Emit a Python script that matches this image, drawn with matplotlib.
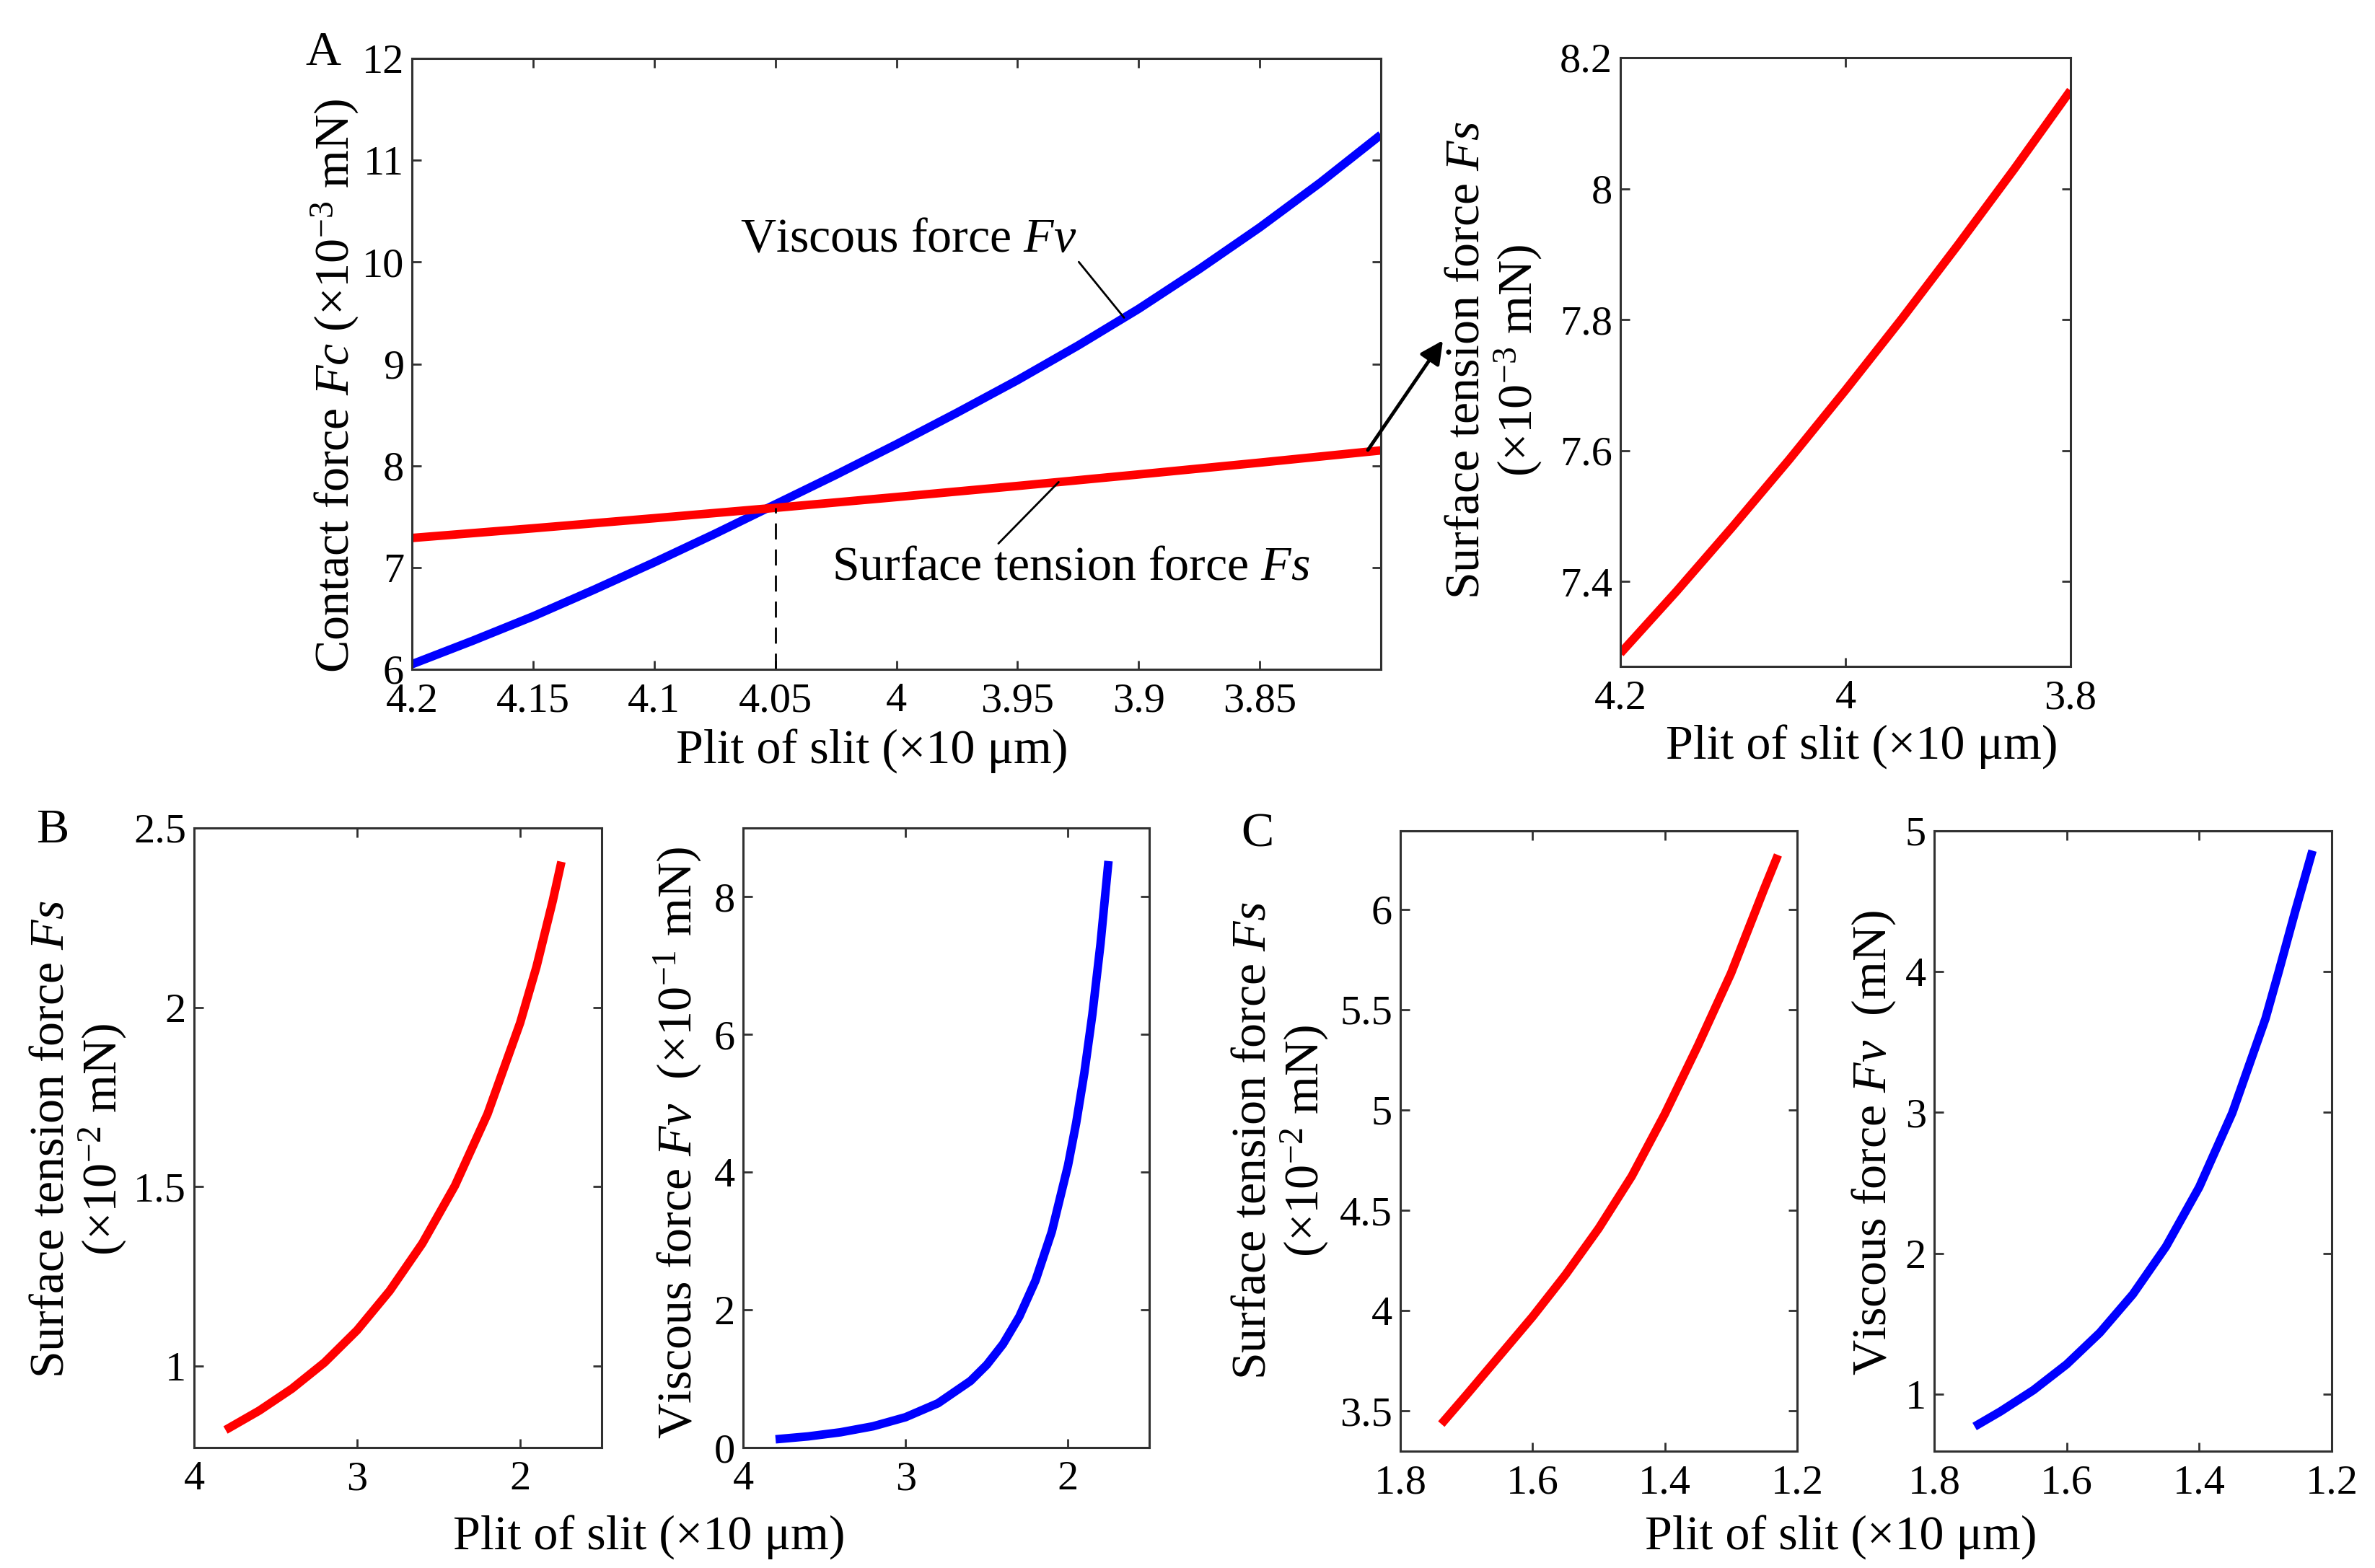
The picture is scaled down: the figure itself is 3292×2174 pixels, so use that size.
import numpy as np
import matplotlib
matplotlib.use('Agg')
import matplotlib.pyplot as plt
from matplotlib.ticker import FuncFormatter

plt.rcParams['font.family'] = ['Liberation Serif', 'DejaVu Serif']
plt.rcParams['mathtext.fontset'] = 'custom'
plt.rcParams['mathtext.rm'] = 'Liberation Serif'
plt.rcParams['mathtext.it'] = 'Liberation Serif:italic'

# ---- data ----
# panel A (plit of slit, x10 um)
a_x = [4.2, 4.175, 4.15, 4.125, 4.1, 4.075, 4.05, 4.025, 4.0,
       3.975, 3.95, 3.925, 3.9, 3.875, 3.85, 3.825, 3.8]
a_fv = [6.05, 6.28, 6.52, 6.78, 7.05, 7.33, 7.62, 7.91, 8.21,
        8.52, 8.84, 9.18, 9.54, 9.93, 10.34, 10.78, 11.25]                 # x1e-3 mN
a_xs = [4.2, 4.15, 4.1, 4.05, 4.0, 3.95, 3.9, 3.85, 3.8]
a_fs = [7.29, 7.385, 7.484, 7.586, 7.692, 7.801, 7.914, 8.03, 8.15]       # x1e-3 mN
x_cross = 4.05

# panel B
b_x_fs = [3.807, 3.6, 3.4, 3.2, 3.0, 2.8, 2.6, 2.4, 2.2, 2.0, 1.9, 1.8, 1.747]
b_fs = [0.822, 0.876, 0.937, 1.010, 1.10, 1.21, 1.342, 1.503, 1.703, 1.957, 2.113, 2.297, 2.406]  # x1e-2 mN
b_x_fv = [3.8, 3.6, 3.4, 3.2, 3.0, 2.8, 2.6, 2.5, 2.4, 2.3, 2.2, 2.1, 2.0,
          1.95, 1.9, 1.85, 1.8, 1.751]
b_fv = [0.12, 0.162, 0.222, 0.309, 0.441, 0.644, 0.968, 1.202, 1.504, 1.901, 2.427, 3.135, 4.10,
        4.713, 5.436, 6.295, 7.319, 8.52]                                  # x1e-1 mN

# panel C
c_x_fs = [1.738, 1.7, 1.65, 1.6, 1.55, 1.5, 1.45, 1.4, 1.35, 1.3, 1.25, 1.229]
c_fs = [3.435, 3.58, 3.775, 3.97, 4.18, 4.41, 4.67, 4.98, 5.32, 5.68, 6.10, 6.27]  # x1e-2 mN
c_x_fv = [1.739, 1.7, 1.65, 1.6, 1.55, 1.5, 1.45, 1.4, 1.35, 1.3, 1.28, 1.255, 1.229]
c_fv = [0.77, 0.877, 1.029, 1.212, 1.436, 1.710, 2.049, 2.47, 2.998, 3.666, 4.0, 4.43, 4.86]  # mN

xlab = 'Plit of slit (×10 μm)'

W, H = 3292, 2174
fig = plt.figure(figsize=(W / 100, H / 100), dpi=100)

def rect(l, r, t, b):
    return [l / W, 1 - b / H, (r - l) / W, (b - t) / H]

def ftext(x, y, s, **kw):
    fig.text(x / W, 1 - y / H, s, ha='center', va='center', **kw)

def on_curve(xv, xs, ys):
    # x axes run downwards, so flip the sign for np.interp
    return np.interp(-xv, [-v for v in xs], ys)

fmt = FuncFormatter(lambda v, p: f'{v:g}')
LAB = 49
TICK = 42

def style(ax):
    for sp in ax.spines.values():
        sp.set_linewidth(2.2)
        sp.set_color('#303030')
    ax.tick_params(direction='in', top=True, right=True, length=9, width=2,
                   color='#303030', labelsize=TICK)
    ax.tick_params(axis='x', pad=13)
    ax.tick_params(axis='y', pad=8)
    ax.xaxis.set_major_formatter(fmt)
    ax.yaxis.set_major_formatter(fmt)

LW = 8.5
RED = '#ff0000'
BLUE = '#0000ff'

# ---- panel A ----
ax = fig.add_axes(rect(571, 1914, 81, 928))
ax.plot(a_x, a_fv, color=BLUE, lw=LW, solid_capstyle='butt')
ax.plot(a_xs, a_fs, color=RED, lw=LW, solid_capstyle='butt')
ax.vlines(x_cross, 6, on_curve(x_cross, a_xs, a_fs), colors='k',
          linestyles=(0, (8, 5)), lw=2)
ax.set_xlim(4.2, 3.8)
ax.set_ylim(6, 12)
ax.set_xticks([4.2, 4.15, 4.1, 4.05, 4.0, 3.95, 3.9, 3.85])
ax.set_yticks([6, 7, 8, 9, 10, 11, 12])
style(ax)
ax.annotate('Viscous force $Fv$', xy=(3.906, on_curve(3.906, a_x, a_fv)),
            xytext=(3.995, 10.22), ha='center', va='center', fontsize=LAB,
            arrowprops=dict(arrowstyle='-', lw=2, color='k', relpos=(1.0, 0.05),
                            shrinkA=0, shrinkB=0))
ax.annotate('Surface tension force $Fs$', xy=(3.933, on_curve(3.933, a_xs, a_fs)),
            xytext=(3.928, 7.0), ha='center', va='center', fontsize=LAB,
            arrowprops=dict(arrowstyle='-', lw=2, color='k', relpos=(0.34, 0.95),
                            shrinkA=0, shrinkB=0))
ax.annotate('', xy=(2000 / W, 1 - 472 / H), xytext=(1896 / W, 1 - 624 / H),
            xycoords='figure fraction', textcoords='figure fraction',
            arrowprops=dict(arrowstyle='-|>', lw=3.5, color='k', mutation_scale=48,
                            shrinkA=0, shrinkB=0), annotation_clip=False)
ftext(448, 74, 'A', fontsize=LAB)
ftext(465, 535, 'Contact force $Fc$ (×10$^{-3}$ mN)', fontsize=LAB, rotation=90)
ftext(1209, 1042, xlab, fontsize=LAB)

# ---- inset of A ----
ax = fig.add_axes(rect(2246, 2870, 80, 924))
ax.plot(a_xs, a_fs, color=RED, lw=LW, solid_capstyle='butt')
ax.set_xlim(4.2, 3.8)
ax.set_ylim(7.27, 8.2)
ax.set_xticks([4.2, 4.0, 3.8])
ax.set_yticks([7.4, 7.6, 7.8, 8.0, 8.2])
style(ax)
ftext(2072, 500, 'Surface tension force $Fs$\n(×10$^{-3}$ mN)', fontsize=LAB,
      rotation=90, multialignment='center', linespacing=1.1)
ftext(2581, 1036, xlab, fontsize=LAB)

# ---- panel B ----
ax = fig.add_axes(rect(269, 834, 1148, 2007))
ax.plot(b_x_fs, b_fs, color=RED, lw=LW, solid_capstyle='butt')
ax.set_xlim(4, 1.5)
ax.set_ylim(0.773, 2.5)
ax.set_xticks([4, 3, 2])
ax.set_yticks([1, 1.5, 2, 2.5])
style(ax)
ftext(110, 1580, 'Surface tension force $Fs$\n(×10$^{-2}$ mN)', fontsize=LAB,
      rotation=90, multialignment='center', linespacing=1.1)

ax = fig.add_axes(rect(1030, 1593, 1148, 2007))
ax.plot(b_x_fv, b_fv, color=BLUE, lw=LW, solid_capstyle='butt')
ax.set_xlim(4, 1.5)
ax.set_ylim(0, 9)
ax.set_xticks([4, 3, 2])
ax.set_yticks([0, 2, 4, 6, 8])
style(ax)
ftext(940, 1585, 'Viscous force $Fv$  (×10$^{-1}$ mN)', fontsize=LAB, rotation=90)
ftext(73, 1151, 'B', fontsize=LAB)
ftext(900, 2132, xlab, fontsize=LAB)

# ---- panel C ----
ax = fig.add_axes(rect(1941, 2491, 1152, 2012))
ax.plot(c_x_fs, c_fs, color=RED, lw=LW, solid_capstyle='butt')
ax.set_xlim(1.8, 1.2)
ax.set_ylim(3.3, 6.39)
ax.set_xticks([1.8, 1.6, 1.4, 1.2])
ax.set_yticks([3.5, 4, 4.5, 5, 5.5, 6])
style(ax)
ftext(1776, 1582, 'Surface tension force $Fs$\n(×10$^{-2}$ mN)', fontsize=LAB,
      rotation=90, multialignment='center', linespacing=1.1)

ax = fig.add_axes(rect(2681, 3232, 1152, 2012))
ax.plot(c_x_fv, c_fv, color=BLUE, lw=LW, solid_capstyle='butt')
ax.set_xlim(1.8, 1.2)
ax.set_ylim(0.595, 5)
ax.set_xticks([1.8, 1.6, 1.4, 1.2])
ax.set_yticks([1, 2, 3, 4, 5])
style(ax)
ftext(2597, 1585, 'Viscous force $Fv$  (mN)', fontsize=LAB, rotation=90)
ftext(1743, 1157, 'C', fontsize=LAB)
ftext(2552, 2132, xlab, fontsize=LAB)

fig.savefig('out.png', dpi=100, facecolor='white')
